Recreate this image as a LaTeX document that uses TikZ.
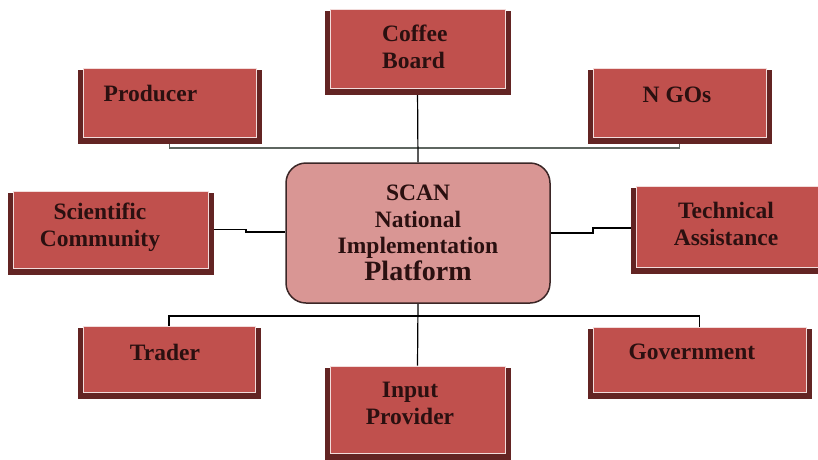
\documentclass[tikz,border=0pt]{standalone}
\usepackage{fontspec}
\setmainfont{Liberation Serif}
\usetikzlibrary{backgrounds}
\definecolor{boxred}{HTML}{C0504D}
\definecolor{boxdark}{HTML}{632423}
\definecolor{boxlight}{HTML}{F2DCDB}
\definecolor{hubfill}{HTML}{D99694}
\definecolor{hubline}{HTML}{3B2626}
\definecolor{txt}{HTML}{2A1010}
\definecolor{busgray}{HTML}{5E6660}
\tikzset{
  redbox/.style={rectangle, fill=boxred, draw=boxlight, line width=0.9pt, inner sep=0pt},
  hub/.style={rectangle, rounded corners=20pt, fill=hubfill, draw=hubline, line width=1.5pt,
    inner sep=0pt, align=center, text=txt, font=\bfseries\fontsize{23.5}{26.5}\selectfont},
  lbl/.style={inner sep=0pt, align=center, text=txt, font=\bfseries\fontsize{23.5}{27}\selectfont},
  conn/.style={draw=black, line width=1.2pt},
  bus/.style={draw=busgray, line width=1.8pt},
}
\begin{document}
\begin{tikzpicture}[x=1pt, y=-1pt]
\useasboundingbox (0,0) rectangle (818,459);
\clip (0,0) rectangle (818,459);
% boxes
\node[redbox, minimum width=175pt, minimum height=79pt] (coffee) at (417.5,48.5) {};
\node[redbox, minimum width=173pt, minimum height=69pt] (producer) at (169.5,102.5) {};
\node[redbox, minimum width=173pt, minimum height=69pt] (ngos) at (679.5,102.5) {};
\node[redbox, minimum width=195pt, minimum height=77pt] (sci) at (110.5,229.5) {};
\node[redbox, minimum width=194pt, minimum height=81pt] (tech) at (733,226.5) {};
\node[redbox, minimum width=172pt, minimum height=66pt] (trader) at (169,359) {};
\node[redbox, minimum width=175pt, minimum height=87pt] (input) at (417.5,409.5) {};
\node[redbox, minimum width=213pt, minimum height=65pt] (gov) at (699.5,359.5) {};
\node[hub, minimum width=264pt, minimum height=140pt] (center) at (418,233)
  {SCAN\\National\\Implementation\\{\fontsize{28}{28}\selectfont Platform}};
% labels
\node[lbl, anchor=west, align=left] (coffee-t) at (382,46.5) {Coffee\\Board};
\node[lbl] (producer-t) at (150.5,93) {Producer};
\node[lbl] (ngos-t) at (677,95) {N GOs};
\node[lbl] (sci-t) at (100,227.5) {Scientific\\Community};
\node[lbl] (tech-t) at (726,223.5) {Technical\\Assistance};
\node[lbl] (trader-t) at (165,352) {Trader};
\node[lbl] (input-t) at (410,403.5) {Input\\Provider};
\node[lbl] (gov-t) at (692,352) {Government};
% connectors and shadows behind
\coordinate (topbus) at (418,148);
\coordinate (botbus) at (418,316);
\coordinate (scij) at (246,232);
\coordinate (techj) at (593,228);
\begin{scope}[on background layer]
  \draw[bus] (producer.south) |- (topbus) -| (ngos.south);
  \draw[conn] (coffee.south) -- (center.north);
  \draw[conn] (sci.east) -| (scij) -- (scij -| center.west);
  \draw[conn] (center.east) -| (techj) -- (techj -| tech.west);
  \draw[conn] (trader.north) |- (botbus) -| (gov.north);
  \draw[conn] (center.south) -- (input.north);
  \foreach \b in {coffee,producer,ngos,sci,tech,trader,input,gov}{
    \fill[boxdark] ([shift={(-5,2)}]\b.north west) rectangle ([shift={(6,7)}]\b.south east);
  }
\end{scope}
\end{tikzpicture}
\end{document}
